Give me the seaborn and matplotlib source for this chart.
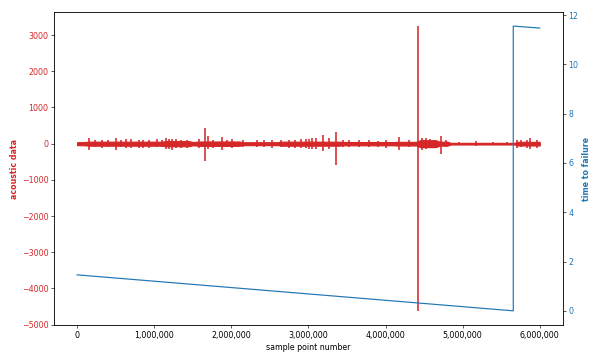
import numpy as np
import matplotlib
matplotlib.use('Agg')
import matplotlib.pyplot as plt
from matplotlib.ticker import FuncFormatter
import seaborn as sns

# acoustic signal (sample number, upper, lower)
env_x = [0, 100000, 150000, 1100000, 1150000, 1450000, 1500000, 1600000, 2100000,
         2150000, 2600000, 2650000, 3400000, 3450000, 4100000, 4150000, 4400000,
         4450000, 4650000, 4700000, 4800000, 4850000, 5680000, 5700000, 5999999]
env_hi = [40, 45, 55, 55, 70, 70, 45, 60, 60, 40, 40, 55, 55, 45, 45, 50, 50,
          95, 95, 55, 55, 22, 22, 50, 50]
env_lo = [-40, -45, -55, -55, -70, -70, -45, -60, -60, -40, -40, -55, -55, -45, -45, -50, -50,
          -95, -95, -55, -55, -22, -22, -50, -50]

# individual bursts in the acoustic signal
spike_x = [150000, 230000, 320000, 400000, 500000, 570000, 640000, 700000, 800000,
           860000, 930000, 1040000, 1100000, 1150000, 1190000, 1230000, 1280000,
           1350000, 1430000, 1580000, 1660000, 1700000, 1760000, 1880000, 1940000,
           2010000, 2150000, 2330000, 2430000, 2530000, 2640000, 2750000, 2830000,
           2900000, 2970000, 3010000, 3050000, 3100000, 3190000, 3270000, 3360000,
           3450000, 3530000, 3650000, 3790000, 3900000, 4000000, 4180000, 4300000,
           4420000, 4470000, 4530000, 4580000, 4630000, 4720000, 4790000, 4950000,
           5170000, 5400000, 5580000, 5700000, 5760000, 5830000, 5870000, 5960000]
spike_hi = [150, 90, 110, 100, 160, 90, 120, 130, 110, 100, 110, 120, 90, 170, 130,
            140, 120, 110, 110, 130, 420, 200, 110, 190, 100, 130, 90, 100, 110, 90,
            90, 100, 110, 120, 140, 130, 150, 150, 250, 150, 310, 90, 100, 90, 90,
            80, 100, 190, 90, 3250, 160, 150, 120, 110, 210, 100, 50, 60, 50, 50,
            110, 100, 110, 150, 110]
spike_lo = [-170, -100, -120, -90, -180, -100, -110, -120, -120, -110, -110, -100, -90,
            -150, -140, -180, -110, -120, -120, -120, -480, -150, -120, -170, -100,
            -120, -90, -100, -100, -110, -90, -110, -130, -120, -120, -150, -140, -140,
            -190, -140, -600, -90, -90, -100, -100, -90, -110, -180, -90, -4620, -170,
            -160, -130, -110, -280, -100, -50, -60, -50, -50, -110, -90, -110, -150, -110]

# time to failure
ttf_x = [0, 5656574, 5656575, 5999999]
ttf_y = [1.46, 0.0, 11.55, 11.47]

fig, ax1 = plt.subplots(figsize=(10.5, 6.3))
fig.subplots_adjust(left=0.09, right=0.938, bottom=0.097, top=0.967)

red = 'tab:red'
blue = 'tab:blue'

ax1.fill_between(env_x, env_lo, env_hi, color=red, linewidth=1.5, edgecolor=red)
ax1.vlines(spike_x, spike_lo, spike_hi, color=red, linewidth=2.0)
ax1.set_xlabel('sample point number')
ax1.set_ylabel('acoustic data', color=red, fontweight='bold')
ax1.tick_params(axis='y', labelcolor=red)
ax1.xaxis.set_major_formatter(FuncFormatter(lambda v, p: f'{v:,.0f}'))

ax2 = ax1.twinx()
sns.lineplot(x=ttf_x, y=ttf_y, ax=ax2, color=blue, linewidth=1.5, sort=False, estimator=None)
ax2.set_ylabel('time to failure', color=blue, fontweight='bold')
ax2.tick_params(axis='y', labelcolor=blue)

fig.savefig('out.png', dpi=57.15)
